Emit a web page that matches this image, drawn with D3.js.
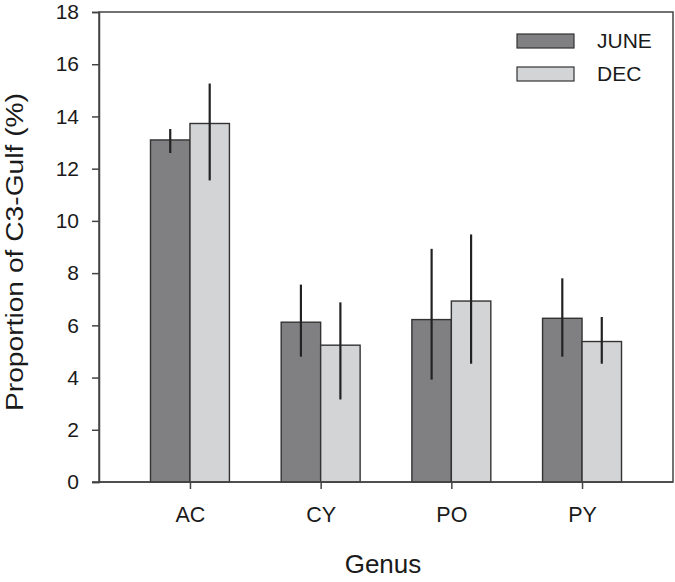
<!DOCTYPE html>
<html>
<head>
<meta charset="utf-8">
<script src="https://cdn.jsdelivr.net/npm/d3@7"></script>
<style>
  body { margin: 0; background: #fff; }
  text { font-family: "Liberation Sans", Arial, sans-serif; fill: #1a1a1a; }
</style>
</head>
<body>
<script>
// data
const genus = ["AC", "CY", "PO", "PY"];
const seasons = ["JUNE", "DEC"];
const juneMean = [13.1, 6.12, 6.22, 6.27];
const juneLow = [12.6, 4.8, 3.92, 4.8];
const juneHigh = [13.52, 7.56, 8.93, 7.8];
const decMean = [13.73, 5.24, 6.93, 5.38];
const decLow = [11.55, 3.16, 4.53, 4.53];
const decHigh = [15.26, 6.88, 9.48, 6.32];
const yTicks = [0, 2, 4, 6, 8, 10, 12, 14, 16, 18];
const colors = { JUNE: "#808083", DEC: "#d3d4d6" };

const width = 675, height = 582;
const marginLeft = 99, marginRight = 2, marginTop = 12, marginBottom = 100;

const series = [
  { key: "JUNE", mean: juneMean, low: juneLow, high: juneHigh },
  { key: "DEC", mean: decMean, low: decLow, high: decHigh },
];

const x = d3.scalePoint(genus, [marginLeft, width - marginRight]).padding(0.696);
const barW = x.step() * 0.302;
const y = d3.scaleLinear([0, 18], [height - marginBottom, marginTop]);

const svg = d3.select("body").append("svg")
  .attr("width", width)
  .attr("height", height)
  .attr("viewBox", [0, 0, width, height]);

// frame
svg.append("rect")
  .attr("x", marginLeft)
  .attr("y", marginTop)
  .attr("width", width - marginRight - marginLeft)
  .attr("height", y(0) - marginTop)
  .attr("fill", "none")
  .attr("stroke", "#444")
  .attr("stroke-width", 1.5);

// bars
series.forEach((s, si) => {
  const off = si === 0 ? -barW : 0;
  svg.append("g")
    .selectAll("rect")
    .data(genus)
    .join("rect")
    .attr("x", (d) => x(d) + off)
    .attr("y", (d, i) => y(s.mean[i]))
    .attr("width", barW)
    .attr("height", (d, i) => y(0) - y(s.mean[i]))
    .attr("fill", colors[s.key])
    .attr("stroke", "#333")
    .attr("stroke-width", 1.4);
});

// error bars
series.forEach((s, si) => {
  const off = si === 0 ? -barW / 2 : barW / 2;
  svg.append("g")
    .selectAll("line")
    .data(genus)
    .join("line")
    .attr("x1", (d) => x(d) + off)
    .attr("x2", (d) => x(d) + off)
    .attr("y1", (d, i) => y(s.low[i]))
    .attr("y2", (d, i) => y(s.high[i]))
    .attr("stroke", "#222")
    .attr("stroke-width", 2.2);
});

// y axis
svg.append("g")
  .attr("transform", `translate(${marginLeft},0)`)
  .call(d3.axisLeft(y).tickValues(yTicks).tickSize(7).tickPadding(13))
  .call((g) => g.select(".domain").attr("stroke", "#444").attr("stroke-width", 1.5))
  .call((g) => g.selectAll(".tick line").attr("stroke", "#444").attr("stroke-width", 1.5))
  .call((g) => g.selectAll(".tick text")
    .attr("font-size", 21)
    .attr("font-family", "Liberation Sans, Arial, sans-serif")
    .attr("fill", "#1a1a1a"));

// x axis
svg.append("g")
  .attr("transform", `translate(0,${y(0)})`)
  .call(d3.axisBottom(x).tickSize(7).tickPadding(18))
  .call((g) => g.select(".domain").remove())
  .call((g) => g.selectAll(".tick line").attr("stroke", "#444").attr("stroke-width", 1.5))
  .call((g) => g.selectAll(".tick text")
    .attr("font-size", 21.5)
    .attr("font-family", "Liberation Sans, Arial, sans-serif")
    .attr("fill", "#1a1a1a"));

// bottom line extends left past the axis like the original
svg.append("line")
  .attr("x1", marginLeft - 7)
  .attr("x2", width - marginRight)
  .attr("y1", y(0))
  .attr("y2", y(0))
  .attr("stroke", "#444")
  .attr("stroke-width", 1.5);

// axis titles
svg.append("text")
  .attr("x", 383)
  .attr("y", 573)
  .attr("text-anchor", "middle")
  .attr("font-size", 26)
  .text("Genus");

svg.append("text")
  .attr("transform", "translate(23,252) rotate(-90)")
  .attr("text-anchor", "middle")
  .attr("font-size", 23.5)
  .attr("textLength", 318)
  .attr("lengthAdjust", "spacingAndGlyphs")
  .text("Proportion of C3-Gulf (%)");

// legend
const legend = svg.append("g")
  .selectAll("g")
  .data(seasons)
  .join("g")
  .attr("transform", (d, i) => `translate(517,${34 + i * 33})`);

legend.append("rect")
  .attr("width", 57)
  .attr("height", 14)
  .attr("fill", (d) => colors[d])
  .attr("stroke", "#333")
  .attr("stroke-width", 1.2);

legend.append("text")
  .attr("x", 80)
  .attr("y", 14)
  .attr("font-size", 21)
  .text((d) => d);
</script>
</body>
</html>
